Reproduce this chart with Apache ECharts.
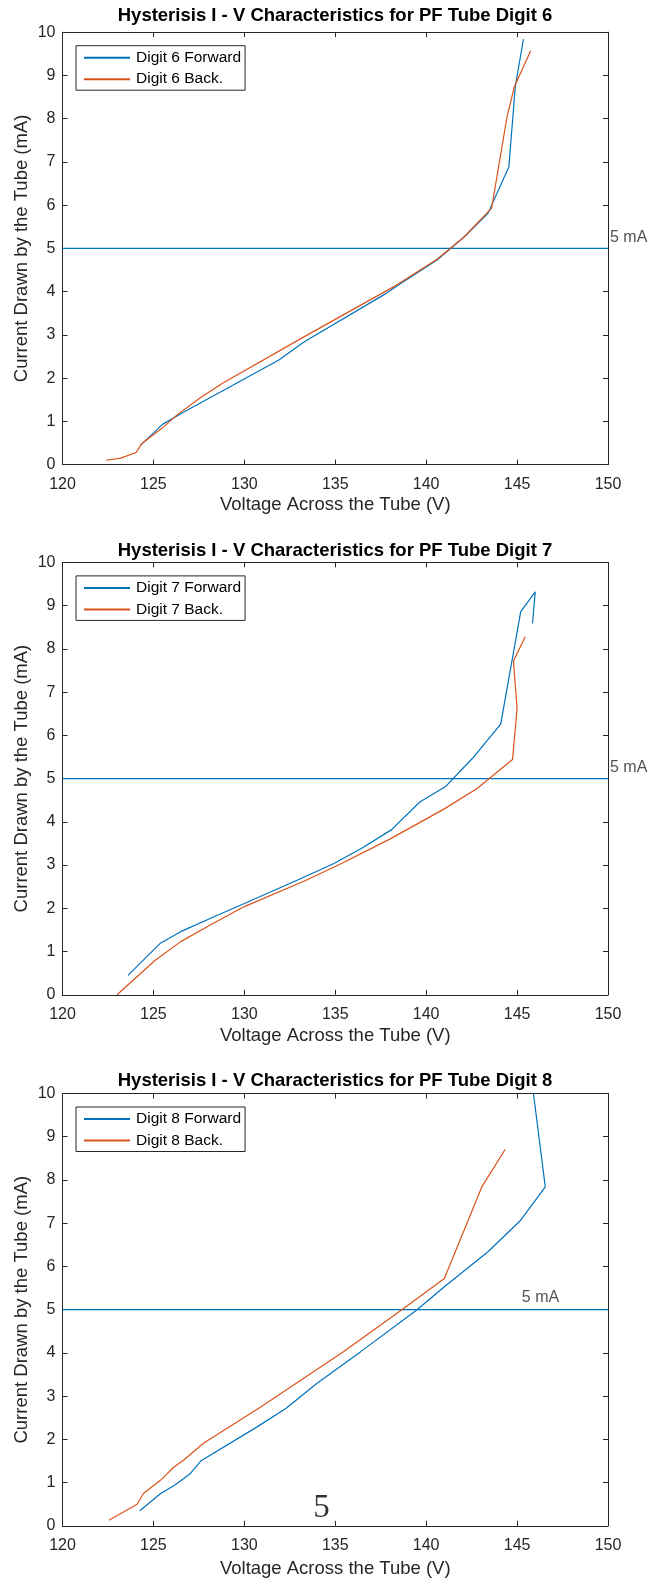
<!DOCTYPE html>
<html>
<head>
<meta charset="utf-8">
<script src="https://cdn.jsdelivr.net/npm/echarts@6/dist/echarts.min.js"></script>
<style>html,body{margin:0;padding:0;background:#fff}#c{width:650px;height:1580px}</style>
</head>
<body>
<div id="c"></div>
<script>
// ---- data ----
const titles = [
  'Hysterisis I - V Characteristics for PF Tube Digit 6',
  'Hysterisis I - V Characteristics for PF Tube Digit 7',
  'Hysterisis I - V Characteristics for PF Tube Digit 8'
];
const forwardNames = ['Digit 6 Forward', 'Digit 7 Forward', 'Digit 8 Forward'];
const backNames = ['Digit 6 Back.', 'Digit 7 Back.', 'Digit 8 Back.'];

const d6Forward = [[124.3,0.45],[125.5,0.93],[126.6,1.2],[131.9,2.42],[133.3,2.84],[137.8,3.96],[138.6,4.19],[140.6,4.73],[142.1,5.27],[143.4,5.81],[144.55,6.89],[144.9,8.74],[145.35,9.84]];
const d6Back = [[122.4,0.1],[123.2,0.15],[124.05,0.28],[124.35,0.48],[125.5,0.85],[126.3,1.15],[127.6,1.55],[128.8,1.88],[133.3,2.96],[138.2,4.11],[140.6,4.75],[142.1,5.27],[143.6,5.93],[144.45,8.05],[144.85,8.74],[145.75,9.57]];

const d7Forward = [[123.6,0.45],[125.4,1.2],[126.5,1.46],[128.3,1.8],[130.0,2.11],[132.9,2.65],[134.9,3.03],[136.5,3.4],[138.1,3.82],[139.65,4.46],[141.05,4.81],[142.55,5.47],[144.1,6.26],[145.2,8.86],[146.0,9.32],[145.85,8.59]];
const d7Back = [[123.0,0.0],[125.1,0.8],[126.5,1.23],[128.1,1.61],[130.0,2.04],[133.4,2.65],[135.4,3.05],[138.0,3.6],[141.0,4.3],[142.8,4.77],[144.75,5.44],[145.0,6.62],[144.8,7.72],[145.45,8.28]];

const d8Forward = [[124.25,0.35],[125.4,0.75],[126.2,0.95],[127.0,1.2],[127.6,1.5],[130.7,2.29],[132.3,2.72],[134.0,3.3],[136.4,4.03],[139.5,5.0],[141.0,5.53],[143.4,6.34],[145.2,7.07],[146.55,7.84],[145.9,10.0]];
const d8Back = [[122.55,0.13],[124.1,0.5],[124.45,0.75],[125.4,1.06],[126.1,1.35],[126.65,1.52],[127.75,1.91],[130.9,2.75],[135.45,4.03],[138.66,5.0],[141.0,5.72],[143.06,7.84],[144.35,8.71]];

const forwardData = [d6Forward, d7Forward, d8Forward];
const backData = [d6Back, d7Back, d8Back];

const refCurrent = 5;           // horizontal 5 mA line
const refLabel = '5 mA';
const refLabelPos = [[150, 5.25], [150, 5.25], [145.15, 5.27]];
const pageMark = '5';
const pageMarkPos = [134.25, 0.4];

const xTicks = {min: 120, max: 150, interval: 5};
const yTicks = {min: 0, max: 10, interval: 1};
const xName = 'Voltage Across the Tube (V)';
const yName = 'Current Drawn by the Tube (mA)';

// ---- chart ----
const BLUE = '#0072BD', ORANGE = '#D95319', AX = '#262626';
const FONT = 'Liberation Sans';
const gridTops = [32.2, 562.4, 1093.5];
const titleCenters = [17.5, 552, 1082];
const xNameGaps = [31, 32, 34];
const gridH = 432.4;

const grids = [], xAxes = [], yAxes = [], series = [], legends = [], titleOpts = [];

gridTops.forEach((top, i) => {
  grids.push({left: 62.5, width: 545.5, top: top, height: gridH, show: false});
  titleOpts.push({
    text: titles[i], left: 335, textAlign: 'center', top: titleCenters[i] - 11, padding: 0,
    textStyle: {fontFamily: FONT, fontSize: 18.5, fontWeight: 'bold', color: '#000'}
  });
  const xb = {
    type: 'value', gridIndex: i, position: 'bottom', ...xTicks,
    name: xName, nameLocation: 'middle', nameGap: xNameGaps[i],
    nameTextStyle: {fontFamily: FONT, fontSize: 18.5, color: AX},
    axisLine: {show: true, onZero: false, lineStyle: {color: AX, width: 1}},
    axisTick: {show: true, inside: true, length: 5, lineStyle: {color: AX}},
    axisLabel: {fontFamily: FONT, fontSize: 16, color: AX, margin: 12},
    splitLine: {show: false}
  };
  const xt = {
    type: 'value', gridIndex: i, position: 'top', ...xTicks,
    axisLine: {show: true, onZero: false, lineStyle: {color: AX, width: 1}},
    axisTick: {show: true, inside: true, length: 5, lineStyle: {color: AX}},
    axisLabel: {show: false}, splitLine: {show: false}
  };
  const yl = {
    type: 'value', gridIndex: i, position: 'left', ...yTicks,
    name: yName, nameLocation: 'middle', nameGap: 31, nameRotate: 90,
    nameMoveOverlap: false,
    nameTextStyle: {fontFamily: FONT, fontSize: 18.5, color: AX},
    axisLine: {show: true, onZero: false, lineStyle: {color: AX, width: 1}},
    axisTick: {show: true, inside: true, length: 5, lineStyle: {color: AX}},
    axisLabel: {fontFamily: FONT, fontSize: 16, color: AX, margin: 7},
    splitLine: {show: false}
  };
  const yr = {
    type: 'value', gridIndex: i, position: 'right', ...yTicks,
    axisLine: {show: true, onZero: false, lineStyle: {color: AX, width: 1}},
    axisTick: {show: true, inside: true, length: 5, lineStyle: {color: AX}},
    axisLabel: {show: false}, splitLine: {show: false}
  };
  xAxes.push(xb, xt);
  yAxes.push(yl, yr);
  const xi = 2 * i, yi = 2 * i;
  series.push({
    name: forwardNames[i], type: 'line', xAxisIndex: xi, yAxisIndex: yi,
    data: forwardData[i], showSymbol: false, symbol: 'none', smooth: false,
    lineStyle: {color: BLUE, width: 1.2}, itemStyle: {color: BLUE}, z: 3
  });
  series.push({
    name: backNames[i], type: 'line', xAxisIndex: xi, yAxisIndex: yi,
    data: backData[i], showSymbol: false, symbol: 'none', smooth: false,
    lineStyle: {color: ORANGE, width: 1.2}, itemStyle: {color: ORANGE}, z: 3
  });
  series.push({
    name: 'ref' + i, type: 'line', xAxisIndex: xi, yAxisIndex: yi,
    data: [[xTicks.min, refCurrent], [xTicks.max, refCurrent]],
    showSymbol: false, symbol: 'none',
    lineStyle: {color: BLUE, width: 1.2}, z: 2
  });
  series.push({
    name: 'reflabel' + i, type: 'scatter', xAxisIndex: xi, yAxisIndex: yi,
    data: [refLabelPos[i]], symbolSize: 0, clip: false, silent: true,
    label: {show: true, position: 'right', distance: 2, formatter: refLabel,
      fontFamily: FONT, fontSize: 16, color: AX}
  });
  legends.push({
    data: [forwardNames[i], backNames[i]],
    orient: 'vertical', left: 76, top: top + 13.5,
    borderColor: AX, borderWidth: 1, backgroundColor: '#fff',
    padding: [4, 4, 3, 7], itemGap: 5.5, itemWidth: 46, itemHeight: 14,
    itemStyle: {opacity: 0},
    textStyle: {fontFamily: FONT, fontSize: 15.5, color: '#000', padding: [0, 0, 0, 1]}
  });
});

series.push({
  name: 'pagemark', type: 'scatter', xAxisIndex: 4, yAxisIndex: 4,
  data: [pageMarkPos], symbolSize: 0, clip: false, silent: true,
  label: {show: true, position: 'inside', formatter: pageMark,
    fontFamily: 'Liberation Serif', fontSize: 33, color: '#000'}
});

const chart = echarts.init(document.getElementById('c'), null, {renderer: 'canvas'});
chart.setOption({
  animation: false,
  backgroundColor: '#fff',
  title: titleOpts,
  grid: grids,
  xAxis: xAxes,
  yAxis: yAxes,
  legend: legends,
  series: series
});
</script>
</body>
</html>
